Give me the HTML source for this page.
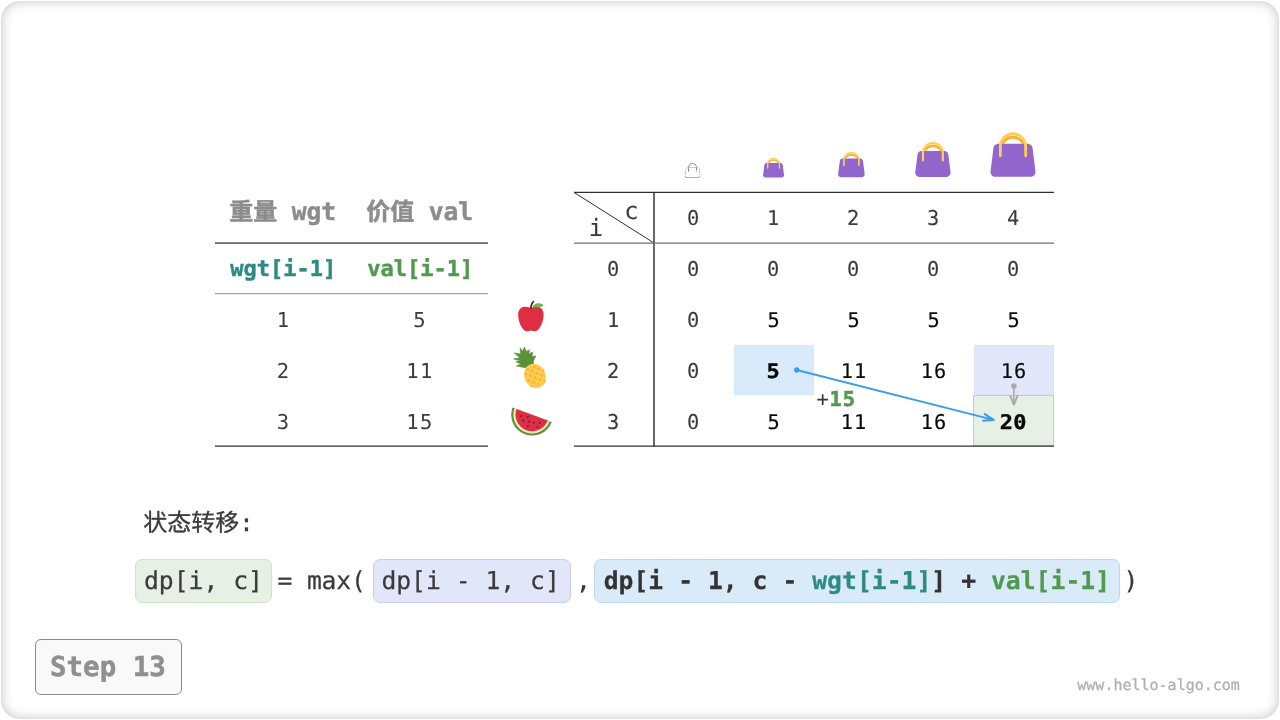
<!DOCTYPE html>
<html lang="zh">
<head>
<meta charset="utf-8">
<title>Knapsack DP Step 13</title>
<style>
html,body{margin:0;padding:0;background:#fff;}
body{width:1280px;height:720px;overflow:hidden;position:relative;}
#card{position:absolute;left:1px;top:1px;width:1278px;height:718px;border-radius:19px;box-sizing:border-box;
  box-shadow: inset 0 0 12px 0 rgba(0,0,0,0.25);background:#fff;}
svg{position:absolute;left:0;top:0;text-rendering:geometricPrecision;}
.m{font-family:"DejaVu Sans Mono","Liberation Mono",monospace;}
.cj{font-family:"DejaVu Sans Mono","Noto Sans CJK SC",sans-serif;}
.g{font-size:20.4px;fill:#3c3c3c;text-anchor:middle;stroke:#3c3c3c;stroke-width:0.1px;}
.gl{font-size:20.5px;stroke-width:0;}
.k{font-size:20.3px;fill:#0a0a0a;text-anchor:middle;stroke:#0a0a0a;stroke-width:0.18px;}
.b{font-weight:bold;}
.k.b{stroke-width:0.4px;}
</style>
</head>
<body>
<div id="card"></div>
<svg width="1280" height="720" viewBox="0 0 1280 720">
<!-- SECTION:cells -->
<rect x="734.500" y="345.500" width="79" height="49" fill="#d9ebfa" stroke="#d3e8f8" stroke-width="1"/>
<rect x="974.500" y="345.500" width="79" height="49.500" fill="#e2e6f9" stroke="#dde2f8" stroke-width="1"/>
<rect x="973.500" y="395.500" width="80" height="50" fill="#e6f0e4" stroke="#b7d8b0" stroke-width="1"/>
<!-- SECTION:lines -->
<g stroke="#303030" stroke-width="1.15" fill="none">
<line x1="215" y1="243.200" x2="488" y2="243.200" stroke="#666" stroke-width="1.7"/>
<line x1="215" y1="446.150" x2="488" y2="446.150"/>
<line x1="574" y1="192.400" x2="1054" y2="192.400"/>
<line x1="574" y1="446.150" x2="1054" y2="446.150"/>
<line x1="654" y1="192" x2="654" y2="446.500" stroke="#2a2a2a" stroke-width="1.4"/>
<line x1="574" y1="192.400" x2="654" y2="243" stroke-width="1"/>
</g>
<g stroke="#5e5e5e" stroke-width="1" fill="none">
<line x1="215" y1="293.700" x2="488" y2="293.700" stroke="#8a8a8a"/>
<line x1="574" y1="243.200" x2="1054" y2="243.200" stroke="#6e6e6e" stroke-width="1.2"/>
</g>
<!-- SECTION:lefttable -->
<text class="cj b" x="282.700" y="220" font-size="24" fill="#8c8c8c" stroke="#8c8c8c" stroke-width="0.45" text-anchor="middle" xml:space="preserve">重量 <tspan font-size="24.6">wgt</tspan></text>
<text class="cj b" x="419.700" y="220" font-size="24" fill="#8c8c8c" stroke="#8c8c8c" stroke-width="0.45" text-anchor="middle" xml:space="preserve">价值 <tspan font-size="24.6">val</tspan></text>
<text class="m b" x="283.300" y="275.700" font-size="22" fill="#2e8b84" stroke="#2e8b84" stroke-width="0.45" text-anchor="middle">wgt[i-1]</text>
<text class="m b" x="420.300" y="275.700" font-size="22" fill="#519950" stroke="#519950" stroke-width="0.45" text-anchor="middle">val[i-1]</text>
<!-- SECTION:leftrows -->
<text class="m g gl" x="282.8" y="327">1</text>
<text class="m g gl" x="419.3" y="327">5</text>
<text class="m g gl" x="282.8" y="378">2</text>
<text class="m g gl" x="419.975" y="378" letter-spacing="1.35">11</text>
<text class="m g gl" x="282.8" y="429">3</text>
<text class="m g gl" x="419.975" y="429" letter-spacing="1.35">15</text>
<!-- END:leftrows -->
<!-- SECTION:righttable -->
<!-- SECTION:rightrows -->
<text class="m g" style="font-size:23.8px" x="631.5" y="219.4">c</text>
<text class="m g" style="font-size:23.8px" x="596" y="235.6">i</text>
<text class="m g" x="693.2" y="224.9">0</text>
<text class="m g" x="773.2" y="224.9">1</text>
<text class="m g" x="853.2" y="224.9">2</text>
<text class="m g" x="933.2" y="224.9">3</text>
<text class="m g" x="1013.2" y="224.9">4</text>
<text class="m g" x="613.2" y="275.95">0</text>
<text class="m g" x="693.2" y="275.95">0</text>
<text class="m g" x="773.2" y="275.95">0</text>
<text class="m g" x="853.2" y="275.95">0</text>
<text class="m g" x="933.2" y="275.95">0</text>
<text class="m g" x="1013.2" y="275.95">0</text>
<text class="m g" x="613.2" y="326.95">1</text>
<text class="m g" x="693.2" y="326.95">0</text>
<text class="m k" x="773.5" y="326.85">5</text>
<text class="m k" x="853.5" y="326.85">5</text>
<text class="m k" x="933.5" y="326.85">5</text>
<text class="m k" x="1013.5" y="326.85">5</text>
<text class="m g" x="613.2" y="377.95">2</text>
<text class="m g" x="693.2" y="377.95">0</text>
<text class="m k b" style="font-size:22px" transform="translate(773.05,377.85) scale(1,0.915)">5</text>
<text class="m k" x="854.1" y="377.85" letter-spacing="1.2">11</text>
<text class="m k" x="934.1" y="377.85" letter-spacing="1.2">16</text>
<text class="m k" x="1014.1" y="377.85" letter-spacing="1.2">16</text>
<text class="m g" x="613.2" y="428.95">3</text>
<text class="m g" x="693.2" y="428.95">0</text>
<text class="m k" x="773.5" y="428.85">5</text>
<text class="m k" x="854.1" y="428.85" letter-spacing="1.2">11</text>
<text class="m k" x="934.1" y="428.85" letter-spacing="1.2">16</text>
<text class="m k b" style="font-size:22px" transform="translate(1013.2,428.85) scale(1,0.915)" letter-spacing="0.3">20</text>
<!-- END:rightrows -->
<text class="m" x="816.600" y="406" font-size="20.5" fill="#333" letter-spacing="0.5">+<tspan font-weight="bold" fill="#519950" stroke="#519950" stroke-width="0.5" letter-spacing="0.9">15</tspan></text>
<!-- SECTION:arrows -->
<g stroke="#3b9fe8" fill="none" stroke-linecap="round" stroke-linejoin="round">
<line x1="796.7" y1="370.0" x2="993.6" y2="419.85" stroke-width="1.9"/>
<polyline points="984.8,414.1 993.6,419.85 983.1,420.7" stroke-width="2.1"/>
</g>
<circle cx="796.7" cy="370" r="2.65" fill="#3b9fe8"/>
<g stroke="#aaa" fill="none" stroke-linecap="round" stroke-linejoin="round">
<line x1="1013.9" y1="385.9" x2="1013.9" y2="404" stroke-width="1.6"/>
<polyline points="1010.4,396 1013.9,404.600 1017.4,396" stroke-width="1.9"/>
</g>
<circle cx="1013.9" cy="385.9" r="2.75" fill="#aaa"/>
<!-- SECTION:bags -->
<g transform="translate(761.74,156.55) scale(0.6562,0.6348)"><path d="M9 16V14.500a9 9 0 0 1 18 0V16" fill="none" stroke="#FFAC33" stroke-width="2.1"/><path fill="#9266CC" d="M34 29.400c0 2-1.600 3.600-3.600 3.600H5.600c-2 0-3.600-1.600-3.600-3.600L4 13.600c0-2 1.600-3.600 3.600-3.600h20.800c2 0 3.600 1.600 3.600 3.600z"/><path d="M9 18.400V12a9 9 0 0 1 18 0V18.400" fill="none" stroke="#FFCE55" stroke-width="2" stroke-linecap="round"/></g>
<g transform="translate(836.44,150.35) scale(0.8313,0.8152)"><path d="M9 16V14.500a9 9 0 0 1 18 0V16" fill="none" stroke="#FFAC33" stroke-width="2.1"/><path fill="#9266CC" d="M34 29.400c0 2-1.600 3.600-3.600 3.600H5.600c-2 0-3.600-1.600-3.600-3.600L4 13.600c0-2 1.600-3.600 3.600-3.600h20.800c2 0 3.600 1.600 3.600 3.600z"/><path d="M9 18.400V12a9 9 0 0 1 18 0V18.400" fill="none" stroke="#FFCE55" stroke-width="2" stroke-linecap="round"/></g>
<g transform="translate(912.99,139.74) scale(1.1062,1.1261)"><path d="M9 16V14.500a9 9 0 0 1 18 0V16" fill="none" stroke="#FFAC33" stroke-width="2.1"/><path fill="#9266CC" d="M34 29.400c0 2-1.600 3.600-3.600 3.600H5.600c-2 0-3.600-1.600-3.600-3.600L4 13.600c0-2 1.600-3.600 3.600-3.600h20.800c2 0 3.600 1.600 3.600 3.600z"/><path d="M9 18.400V12a9 9 0 0 1 18 0V18.400" fill="none" stroke="#FFCE55" stroke-width="2" stroke-linecap="round"/></g>
<g transform="translate(987.69,129.45) scale(1.4062,1.4348)"><path d="M9 16V14.500a9 9 0 0 1 18 0V16" fill="none" stroke="#FFAC33" stroke-width="2.1"/><path fill="#9266CC" d="M34 29.400c0 2-1.600 3.600-3.600 3.600H5.600c-2 0-3.600-1.600-3.600-3.600L4 13.600c0-2 1.600-3.600 3.600-3.600h20.800c2 0 3.600 1.600 3.600 3.600z"/><path d="M9 18.400V12a9 9 0 0 1 18 0V18.400" fill="none" stroke="#FFCE55" stroke-width="2" stroke-linecap="round"/></g>
<g fill="none"><path stroke="#9c9c9c" stroke-width="0.75" stroke-dasharray="1.6 0.9" d="M685.5 177.400V170.600Q685.500 167.700 688.300 167.500H696.900Q699.700 167.700 699.700 170.600V177.400"/><path stroke="#a0a0a0" stroke-width="0.8" d="M686 177.500H699.300"/><path stroke="#808080" stroke-width="1" stroke-dasharray="3.4 0.500" d="M688.600 171.600V167.600a4 4.200 0 0 1 8 0V171.600"/></g>
<!-- END:bags -->
<!-- SECTION:fruits -->
<g transform="translate(515.6,300.7) scale(0.85)"><path fill="#DD2E44" d="M24 7c-3 0-3 1-6 1s-3-1-6-1c-4 0-9 2-9 9 0 11 6 20 10 20 3 0 3-1 5-1s2 1 5 1c4 0 10-9 10-20 0-7-5-9-9-9z"/><path fill="#77B255" d="M19.600 7.300C21.500 4.300 24.500 2.800 27.500 3.100C30 3.300 32 4.300 33 5.600C30.500 7.300 28 8 25.500 7.700C23 7.400 21 7.200 19.600 7.300z"/><path fill="#662113" d="M18 10c-.552 0-1-.448-1-1 0-3.441 1.200-6.615 3.293-8.707.391-.391 1.023-.391 1.414 0s.391 1.023 0 1.414C19.986 3.427 19 6.085 19 9c0 .552-.448 1-1 1z"/></g>
<path fill="#5C913B" stroke="#5C913B" stroke-width="0.6" stroke-linejoin="round" d="M525.00 367.67 L516.25 366.00 L521.00 364.00 L515.67 361.83 L520.17 360.67 L513.75 359.00 L519.75 357.67 L514.17 352.92 L520.67 354.00 L520.00 347.92 L522.75 351.00 L524.33 347.08 L526.50 351.42 L529.58 349.83 L528.75 353.92 L532.75 352.08 L532.08 356.42 L536.00 356.00 L533.75 360.00 L533.33 364.58Z"/>
<clipPath id="pcl"><ellipse rx="10.6" ry="12.5" transform="translate(535.00,376.00) rotate(-25)"/></clipPath>
<g transform="translate(535.00,376.00) rotate(-25)"><ellipse rx="10.6" ry="12.5" fill="#FFCC4D"/>
</g>
<g clip-path="url(#pcl)">
<circle cx="527.62" cy="369.35" r="1.25" fill="#FFAC33"/>
<circle cx="525.81" cy="373.85" r="1.25" fill="#FFAC33"/>
<circle cx="534.17" cy="366.77" r="1.25" fill="#FFAC33"/>
<circle cx="532.35" cy="371.26" r="1.25" fill="#FFAC33"/>
<circle cx="530.53" cy="375.76" r="1.25" fill="#FFAC33"/>
<circle cx="528.72" cy="380.26" r="1.25" fill="#FFAC33"/>
<circle cx="538.90" cy="368.68" r="1.25" fill="#FFAC33"/>
<circle cx="537.08" cy="373.17" r="1.25" fill="#FFAC33"/>
<circle cx="535.26" cy="377.67" r="1.25" fill="#FFAC33"/>
<circle cx="533.45" cy="382.17" r="1.25" fill="#FFAC33"/>
<circle cx="531.63" cy="386.66" r="1.25" fill="#FFAC33"/>
<circle cx="543.63" cy="370.59" r="1.25" fill="#FFAC33"/>
<circle cx="541.81" cy="375.08" r="1.25" fill="#FFAC33"/>
<circle cx="539.99" cy="379.58" r="1.25" fill="#FFAC33"/>
<circle cx="538.18" cy="384.08" r="1.25" fill="#FFAC33"/>
<circle cx="544.72" cy="381.49" r="1.25" fill="#FFAC33"/>
</g>
<g transform="translate(532.1,414.7) rotate(20.4)"><path fill="#5C913B" d="M-20.900 0A20.900 20.900 0 0 0 20.900 0Z"/><path fill="#FFE8B6" d="M-18.700 0A18.700 18.700 0 0 0 18.700 0Z"/><path fill="#DD2E44" d="M-16.600 0A16.600 16.600 0 0 0 16.600 0Z"/></g>
<ellipse cx="521.25" cy="416" rx="1.15" ry="0.7" fill="#292F33" transform="rotate(-50 521.25 416)"/>
<ellipse cx="527.9" cy="416.8" rx="1.15" ry="0.7" fill="#292F33" transform="rotate(-45 527.9 416.8)"/>
<ellipse cx="523.3" cy="420.5" rx="1.15" ry="0.7" fill="#292F33" transform="rotate(40 523.3 420.5)"/>
<ellipse cx="529.2" cy="421.6" rx="1.15" ry="0.7" fill="#292F33" transform="rotate(40 529.2 421.6)"/>
<ellipse cx="533.75" cy="422.7" rx="1.15" ry="0.7" fill="#292F33" transform="rotate(40 533.75 422.7)"/>
<ellipse cx="539.8" cy="422.8" rx="1.15" ry="0.7" fill="#292F33" transform="rotate(-50 539.8 422.8)"/>
<ellipse cx="527.9" cy="426" rx="1.15" ry="0.7" fill="#292F33" transform="rotate(-45 527.9 426)"/>
<ellipse cx="537.5" cy="427.2" rx="1.15" ry="0.7" fill="#292F33" transform="rotate(40 537.5 427.2)"/>
<!-- END:fruits -->
<!-- SECTION:formula -->
<text class="cj" x="143.200" y="531" font-size="24" fill="#3a3a3a" stroke="#3a3a3a" stroke-width="0.3">状态转移:</text>
<rect x="135.5" y="559.5" width="136" height="43" rx="6.5" fill="#e6f0e4" stroke="#cfe3ca"/>
<rect x="373.5" y="559.5" width="197" height="43" rx="6.5" fill="#e1e6f9" stroke="#c5cdf2"/>
<rect x="594.500" y="559.500" width="525" height="43" rx="6.5" fill="#d9eaf9" stroke="#b9d9f3"/>
<g class="m" font-size="24.7" fill="#3a3a3a" stroke="#3a3a3a" stroke-width="0.25">
<text x="144" y="589" xml:space="preserve">dp[i, c]</text>
<text x="277.400" y="589" xml:space="preserve" letter-spacing="-0.12">= max(</text>
<text x="381.400" y="589" xml:space="preserve">dp[i - 1, c]</text>
<text x="576" y="589">,</text>
<text x="603.700" y="589" class="b" fill="#333" font-size="24.7" letter-spacing="0.03" xml:space="preserve">dp[i - 1, c - <tspan fill="#2e8b84" stroke="#2e8b84">wgt[i-1]</tspan>] + <tspan fill="#519950" stroke="#519950">val[i-1]</tspan></text>
<text x="1123.500" y="589">)</text>
</g>
<!-- SECTION:step -->
<rect x="35.5" y="639.5" width="146" height="55" rx="5.5" fill="#f9f9f9" stroke="#8a8a8a"/>
<text class="m b" x="50" y="675.5" font-size="27.5" fill="#8f8f8f" stroke="#8f8f8f" stroke-width="0.5" xml:space="preserve">Step 13</text>
<text class="m" x="1077.300" y="690" font-size="15" fill="#b0b0b0" stroke="#b0b0b0" stroke-width="0.3">www.hello-algo.com</text>
</svg>
</body>
</html>
